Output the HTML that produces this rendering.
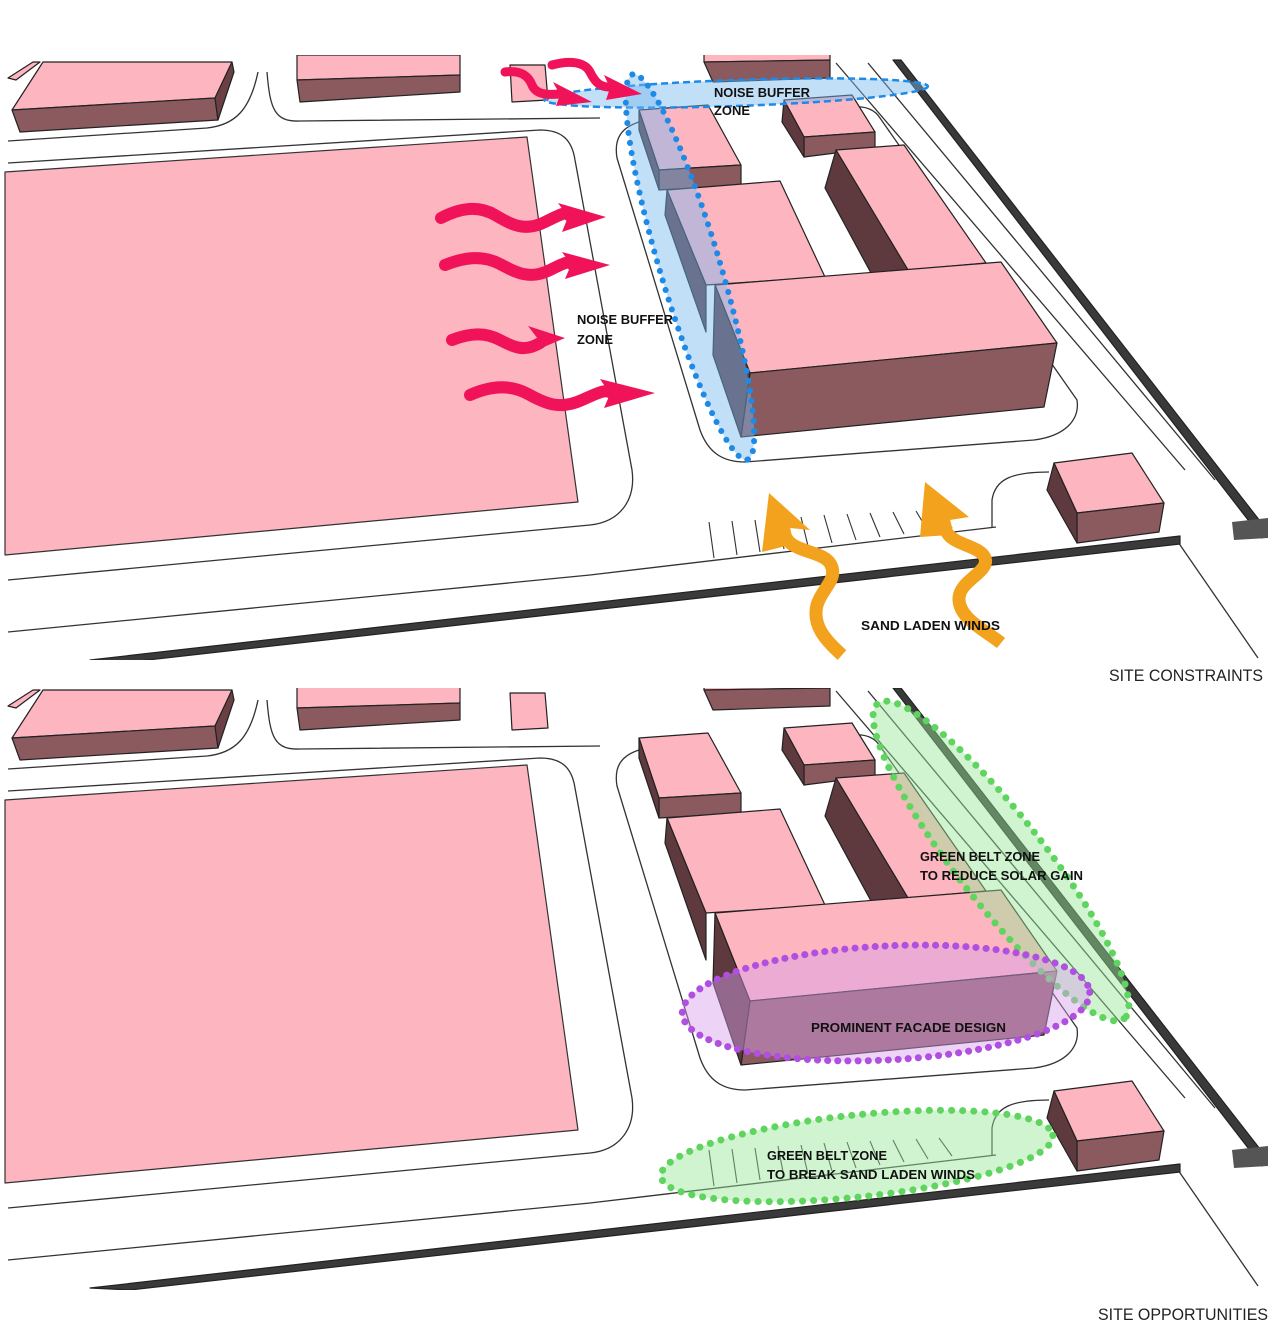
<!DOCTYPE html>
<html><head><meta charset="utf-8"><style>
html,body{margin:0;padding:0;background:#fff;}
svg{display:block;}
text{font-family:"Liberation Sans",sans-serif;}
.l{font-weight:bold;font-size:13px;fill:#111;}
</style></head><body>
<svg width="1280" height="1333" viewBox="0 0 1280 1333" xmlns="http://www.w3.org/2000/svg">
<defs>
<clipPath id="c1"><rect x="0" y="55" width="1280" height="605"/></clipPath>
<clipPath id="c2"><rect x="0" y="688" width="1280" height="602"/></clipPath>
<g id="scene" stroke="#222" stroke-width="1.2" stroke-linejoin="round">
  <polygon points="5,172 527,137 578,502 5,555" fill="#fdb5bf" stroke="#333"/>
  <g fill="none" stroke="#333" stroke-width="1.3">
    <path d="M8,141 L207,128 C235,125 250,110 258,72"/>
    <path d="M267,72 C270,110 275,122 300,121 L600,118"/>
    <path d="M8,163 L540,130 C562,130 572,140 575,160 L632,470 C636,500 620,522 590,525 L8,580"/>
    <path d="M8,632 L590,575 L996,527"/>
    <path d="M639,122 C620,128 614,140 617,158 L700,430 C708,452 722,462 745,462 L1034,440 C1065,436 1080,420 1077,400 L880,118 C875,110 866,106 855,107"/>
    <path d="M992,527 L992,500 C995,480 1010,472 1049,472"/>
    <path d="M836,63 L1185,470"/>
    <path d="M868,63 L1215,480"/>
    <path d="M1178,542 L1258,658"/>
  </g>
  <g stroke="#333" stroke-width="1.1">
    <line x1="709" y1="522" x2="714" y2="558"/><line x1="732" y1="521" x2="737" y2="555"/>
    <line x1="755" y1="520" x2="760" y2="552"/><line x1="778" y1="518" x2="784" y2="549"/>
    <line x1="801" y1="517" x2="808" y2="546"/><line x1="824" y1="515" x2="832" y2="543"/>
    <line x1="847" y1="514" x2="856" y2="540"/><line x1="870" y1="513" x2="880" y2="537"/>
    <line x1="893" y1="512" x2="904" y2="534"/><line x1="916" y1="511" x2="928" y2="531"/>
    <line x1="939" y1="510" x2="952" y2="528"/>
  </g>
  <polygon points="90,660 1180,536 1180,544 130,662" fill="#3a3a3a" stroke="#222"/>
  <polygon points="893,60 901,60 1267,530 1262,538" fill="#3a3a3a" stroke="#222"/>
  <polygon points="1232,522 1268,518 1268,538 1234,540" fill="#555" stroke="none"/>
  <polygon points="8,78 33,62 40,62 16,80" fill="#fdb5bf"/>
  <polygon points="12,110 43,62 232,62 215,98" fill="#fdb5bf"/>
  <polygon points="12,110 215,98 218,120 20,132" fill="#8a5a5f"/>
  <polygon points="215,98 232,62 234,72 218,120" fill="#6a4045"/>
  <polygon points="297,55 460,55 460,75 297,80" fill="#fdb5bf"/>
  <polygon points="297,80 460,75 460,92 300,102" fill="#8a5a5f"/>
  <polygon points="510,65 545,65 548,100 512,102" fill="#fdb5bf"/>
  <polygon points="704,52 830,52 830,60 704,62" fill="#fdb5bf"/>
  <polygon points="704,62 830,60 830,78 713,82" fill="#8a5a5f"/>
  <polygon points="639,110 708,105 741,165 659,170" fill="#fdb5bf"/>
  <polygon points="659,170 741,165 741,185 659,190" fill="#8a5a5f"/>
  <polygon points="639,110 659,170 659,190 639,130" fill="#5e3a3e"/>
  <polygon points="784,100 852,95 875,132 804,137" fill="#fdb5bf"/>
  <polygon points="804,137 875,132 875,148 804,157" fill="#8a5a5f"/>
  <polygon points="784,100 804,137 804,157 782,122" fill="#5e3a3e"/>
  <polygon points="836,150 904,145 986,263 908,270" fill="#fdb5bf"/>
  <polygon points="836,150 908,270 871,273 825,188" fill="#5e3a3e"/>
  <polygon points="667,190 780,181 825,277 706,285" fill="#fdb5bf"/>
  <polygon points="667,190 706,285 706,332 665,215" fill="#5e3a3e"/>
  <polygon points="715,285 1001,262 1057,343 750,373" fill="#fdb5bf"/>
  <polygon points="750,373 1057,343 1044,407 741,437" fill="#8a5a5f"/>
  <polygon points="715,285 750,373 741,437 713,355" fill="#5e3a3e"/>
  <polygon points="1054,463 1132,453 1164,503 1077,513" fill="#fdb5bf"/>
  <polygon points="1077,513 1164,503 1159,532 1077,543" fill="#8a5a5f"/>
  <polygon points="1054,463 1077,513 1077,543 1047,490" fill="#5e3a3e"/>
</g>
</defs>

<g clip-path="url(#c1)">
  <use href="#scene"/>
  <ellipse cx="736" cy="93" rx="192" ry="13" transform="rotate(-2 736 93)" fill="rgba(120,185,240,0.45)" stroke="#1f8ae6" stroke-width="2.5" stroke-dasharray="7,4"/>
  <ellipse cx="690" cy="267" rx="201" ry="30" transform="rotate(73.4 690 267)" fill="rgba(120,185,240,0.45)" stroke="#1f8ae6" stroke-width="6" stroke-dasharray="0.1,10" stroke-linecap="round"/>
  <g fill="none" stroke="#f0135a" stroke-width="12" stroke-linecap="round">
    <path d="M441,218 C460,208 478,205 495,215 S525,232 545,222 S565,212 570,216"/>
    <path d="M445,265 C465,257 483,255 500,264 S530,280 550,270 S568,262 573,265"/>
    <path d="M452,340 C470,333 485,332 500,340 S525,352 540,343"/>
    <path d="M470,395 C490,386 510,384 528,394 S560,410 582,400 S605,390 612,393"/>
    <path d="M505,72 C520,70 528,75 532,85 S548,95 560,94" stroke-width="9"/>
    <path d="M552,65 C570,60 585,62 590,72 S600,88 612,87" stroke-width="9"/>
  </g>
  <g fill="#f0135a">
    <polygon points="558,203 606,217 562,232 568,217"/>
    <polygon points="562,252 610,265 565,279 571,265"/>
    <polygon points="528,326 565,338 532,352 538,339"/>
    <polygon points="600,379 655,393 604,408 610,394"/>
    <polygon points="553,82 592,102 556,106 560,95"/>
    <polygon points="604,75 642,94 606,100 610,88"/>
  </g>
  <g fill="none" stroke="#f2a21d" stroke-width="13" stroke-linecap="butt">
    <path d="M842,655 C825,640 812,625 817,605 C822,588 838,580 831,565 C824,550 790,553 785,535 L783,525"/>
    <path d="M1001,643 C985,630 958,618 959,598 C960,580 990,572 985,558 C980,545 950,545 946,530 L944,522"/>
  </g>
  <g fill="#f2a21d">
    <polygon points="769,493 810,530 790,528 790,545 762,552"/>
    <polygon points="925,482 969,517 950,520 950,535 920,537"/>
  </g>
  <text class="l" x="714" y="97" textLength="96" lengthAdjust="spacingAndGlyphs">NOISE BUFFER</text>
  <text class="l" x="714" y="115" textLength="36" lengthAdjust="spacingAndGlyphs">ZONE</text>
  <text class="l" x="577" y="324" textLength="96" lengthAdjust="spacingAndGlyphs">NOISE BUFFER</text>
  <text class="l" x="577" y="344" textLength="36" lengthAdjust="spacingAndGlyphs">ZONE</text>
  <text class="l" x="861" y="630" font-size="14" textLength="139" lengthAdjust="spacingAndGlyphs">SAND LADEN WINDS</text>
</g>
<text x="1109" y="681" font-size="17" fill="#222" textLength="154" lengthAdjust="spacingAndGlyphs">SITE CONSTRAINTS</text>

<g clip-path="url(#c2)">
  <use href="#scene" transform="translate(0,628)"/>
  <ellipse cx="1001" cy="861" rx="200" ry="44" transform="rotate(52 1001 861)" fill="rgba(150,230,150,0.45)" stroke="#5fd45f" stroke-width="7" stroke-dasharray="0.1,11" stroke-linecap="round"/>
  <ellipse cx="886" cy="1003" rx="204" ry="57" transform="rotate(-3 886 1003)" fill="rgba(215,160,235,0.45)" stroke="#b04fe0" stroke-width="7" stroke-dasharray="0.1,10" stroke-linecap="round"/>
  <ellipse cx="857" cy="1156" rx="197" ry="41" transform="rotate(-6 857 1156)" fill="rgba(150,230,150,0.45)" stroke="#5fd45f" stroke-width="7" stroke-dasharray="0.1,11" stroke-linecap="round"/>
  <text class="l" x="920" y="861" textLength="120" lengthAdjust="spacingAndGlyphs">GREEN BELT ZONE</text>
  <text class="l" x="920" y="880" textLength="163" lengthAdjust="spacingAndGlyphs">TO REDUCE SOLAR GAIN</text>
  <text class="l" x="811" y="1032" textLength="195" lengthAdjust="spacingAndGlyphs">PROMINENT FACADE DESIGN</text>
  <text class="l" x="767" y="1160" textLength="120" lengthAdjust="spacingAndGlyphs">GREEN BELT ZONE</text>
  <text class="l" x="767" y="1179" textLength="208" lengthAdjust="spacingAndGlyphs">TO BREAK SAND LADEN WINDS</text>
</g>
<text x="1098" y="1320" font-size="17" fill="#222" textLength="170" lengthAdjust="spacingAndGlyphs">SITE OPPORTUNITIES</text>
</svg>
</body></html>
